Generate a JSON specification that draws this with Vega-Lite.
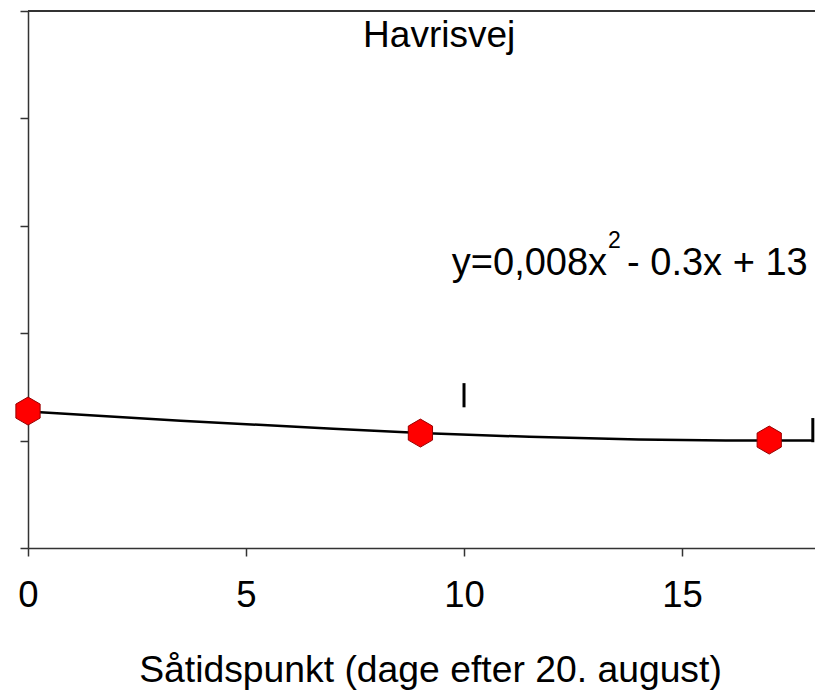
{
  "$schema": "https://vega.github.io/schema/vega-lite/v6.json",
  "width": 787,
  "height": 537,
  "autosize": {"type": "none"},
  "padding": {"left": 28, "top": 11, "right": 0, "bottom": 144},
  "background": "white",
  "config": {
    "view": {"stroke": null},
    "font": "Liberation Sans",
    "axis": {"grid": false, "domainColor": "#333333", "domainWidth": 1.5, "tickColor": "#333333", "tickWidth": 1.5, "tickSize": 8, "labelColor": "#000000", "titleColor": "#000000"}
  },
  "datasets": {
    "points": [
      {"dag": 0, "udbytte": 12.75},
      {"dag": 9, "udbytte": 10.7},
      {"dag": 17, "udbytte": 10.05}
    ],
    "curve": [
      {"dag": 0, "udbytte": 12.7},
      {"dag": 3.5, "udbytte": 11.85},
      {"dag": 7, "udbytte": 11.1},
      {"dag": 9, "udbytte": 10.7},
      {"dag": 11.5, "udbytte": 10.35},
      {"dag": 14, "udbytte": 10.1},
      {"dag": 16, "udbytte": 10.0},
      {"dag": 18, "udbytte": 10.0}
    ],
    "errors": [
      {"dag": 10, "lo": 13.1, "hi": 15.35},
      {"dag": 18, "lo": 9.85, "hi": 12.1}
    ]
  },
  "layer": [
    {
      "data": {"values": [{}]},
      "mark": {"type": "rule", "color": "#333333", "strokeWidth": 2},
      "encoding": {"y": {"datum": 50}}
    },
    {
      "data": {"name": "curve"},
      "mark": {"type": "line", "color": "#000000", "strokeWidth": 2.5},
      "encoding": {
        "x": {
          "field": "dag", "type": "quantitative",
          "scale": {"domain": [0, 18.05], "nice": false, "zero": false},
          "axis": {"values": [0, 5, 10, 15], "labelFontSize": 36.5, "labelPadding": 21, "labelFlush": false, "labelOverlap": false, "title": "Såtidspunkt (dage efter 20. august)", "titleFontSize": 37.3, "titleFontWeight": "normal", "titlePadding": 39, "titleX": 402, "titleAlign": "center", "titleAnchor": null}
        },
        "y": {
          "field": "udbytte", "type": "quantitative",
          "scale": {"domain": [0, 50], "nice": false},
          "axis": {"values": [0, 10, 20, 30, 40, 50], "labels": false, "title": null}
        }
      }
    },
    {
      "data": {"name": "errors"},
      "mark": {"type": "rule", "color": "#000000", "strokeWidth": 3},
      "encoding": {
        "x": {"field": "dag", "type": "quantitative"},
        "y": {"field": "lo", "type": "quantitative"},
        "y2": {"field": "hi"}
      }
    },
    {
      "data": {"name": "points"},
      "mark": {"type": "point", "shape": "M0,-1L0.866,-0.5L0.866,0.5L0,1L-0.866,0.5L-0.866,-0.5Z", "size": 784, "filled": true, "fill": "#ff0000", "stroke": "#990000", "strokeWidth": 1, "opacity": 1},
      "encoding": {
        "x": {"field": "dag", "type": "quantitative"},
        "y": {"field": "udbytte", "type": "quantitative"}
      }
    },
    {
      "data": {"values": [{}]},
      "mark": {"type": "text", "align": "center", "baseline": "alphabetic", "fontSize": 37, "color": "#000000"},
      "encoding": {"x": {"datum": 9.43}, "y": {"datum": 46.65}, "text": {"value": "Havrisvej"}}
    },
    {
      "data": {"values": [{}]},
      "mark": {"type": "text", "align": "left", "baseline": "alphabetic", "fontSize": 38, "color": "#000000"},
      "encoding": {"x": {"datum": 9.72}, "y": {"datum": 25.42}, "text": {"value": "y=0,008x"}}
    },
    {
      "data": {"values": [{}]},
      "mark": {"type": "text", "align": "left", "baseline": "alphabetic", "fontSize": 23, "color": "#000000"},
      "encoding": {"x": {"datum": 13.3}, "y": {"datum": 27.93}, "text": {"value": "2"}}
    },
    {
      "data": {"values": [{}]},
      "mark": {"type": "text", "align": "left", "baseline": "alphabetic", "fontSize": 38, "color": "#000000"},
      "encoding": {"x": {"datum": 13.74}, "y": {"datum": 25.42}, "text": {"value": "- 0.3x + 13"}}
    }
  ]
}
